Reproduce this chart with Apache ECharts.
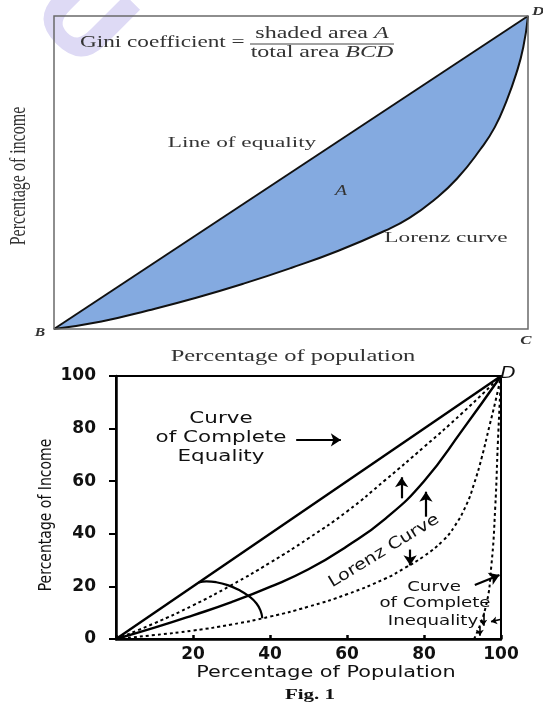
<!DOCTYPE html>
<html>
<head>
<meta charset="utf-8">
<script src="https://cdn.jsdelivr.net/npm/echarts@6/dist/echarts.min.js"></script>
<style>
html,body{margin:0;padding:0;background:#fff;}
#chart{width:543px;height:705px;}
</style>
</head>
<body>
<div id="chart"></div>
<script>
// ---------- data ----------
// Top diagram (Gini)
const topEqX = [0, 100];
const topEqY = [0, 100];
const topLorenzX = [0, 10, 20, 30, 40, 50, 60, 70, 75, 80, 85, 90, 93, 95.5, 97.5, 99, 100];
const topLorenzY = [0, 2.4, 6, 10, 14.5, 19.5, 25, 31.5, 35.5, 41, 48, 57.5, 64.5, 73, 81.5, 90, 100];

// Bottom diagram (Lorenz curves)
const botEqX = [0, 100];
const botEqY = [0, 100];
const dotted1X = [0, 10, 20, 30, 40, 50, 60, 70, 80, 90, 100];
const dotted1Y = [0, 6, 12.8, 20.5, 29, 38.3, 48.5, 60.5, 73, 86, 100];
const lorenzX = [0, 10, 20, 30, 40, 50, 60, 70, 80, 90, 100];
const lorenzY = [0, 4.3, 9, 14, 19.8, 26.5, 35.3, 45.8, 60, 79.5, 100];
const dotted2X = [0, 10, 20, 30, 40, 50, 60, 70, 75, 80, 85, 88, 91, 93, 95, 97, 98.5, 100];
const dotted2Y = [0, 1.5, 3.2, 5.5, 8.5, 12.3, 17, 23, 27, 31.5, 37.5, 43, 51, 59, 69, 81, 90, 100];
const steepX = [93, 96, 97.5, 98.5, 99.2, 100];
const steepY = [0, 12, 28, 50, 75, 100];
const arcX = [21.5, 23.5, 26, 29, 32, 34.5, 36.5, 37.6, 38];
const arcY = [21.5, 21.9, 21.6, 20.5, 18.6, 16.3, 13.5, 10.5, 7.9];

// annotation arrows [from, to] in data units
const arrowEquality = [[46.8, 75.7], [58.4, 75.7]];
const arrowUp1 = [[74.2, 53.5], [74.2, 61.5]];
const arrowUp2 = [[80.5, 46.5], [80.5, 56]];
const arrowDown = [[76.4, 34], [76.4, 28]];
const arrowInequality = [[93.2, 20.5], [99.6, 24.3]];
const arrowSmall1 = [[95.4, 10], [95.4, 5]];
const arrowSmall2 = [[99.8, 7.4], [97.4, 6.6]];
const arrowSmall3 = [[94.5, 4.8], [94.5, 1.2]];

// tick labels
const xTickValues = [0, 20, 40, 60, 80, 100];
const xTickLabels = ['', '20', '40', '60', '80', '100'];
const yTickValues = [0, 20, 40, 60, 80, 100];
const yTickLabels = ['0', '20', '40', '60', '80', '100'];

// ---------- helpers ----------
const zip = (xs, ys) => xs.map((x, i) => [x, ys[i]]);
const SERIF = '"Liberation Serif", serif';
const SANS = '"DejaVu Sans", sans-serif';

const chart = echarts.init(document.getElementById('chart'), null, {renderer: 'canvas'});

function bottomLine(name, xs, ys, dashed, width) {
  return {
    name, type: 'line', xAxisIndex: 1, yAxisIndex: 1,
    data: zip(xs, ys), showSymbol: false, symbol: 'none',
    smooth: xs.length > 2 ? 0.5 : false,
    lineStyle: {color: '#000', width: width || 2.4, type: dashed ? [3, 3] : 'solid'},
    silent: true, animation: false, z: 3
  };
}

const arrows = [arrowEquality, arrowUp1, arrowUp2, arrowDown, arrowInequality];
const smallArrows = [arrowSmall1, arrowSmall2, arrowSmall3];

const option = {
  animation: false,
  backgroundColor: '#fff',
  grid: [
    {left: 54, top: 16, width: 474, height: 313, show: true, borderColor: '#6a6a6a', borderWidth: 1.5, z: 6},
    {left: 116, top: 376, width: 385, height: 263, show: true, borderColor: '#000', borderWidth: 2}
  ],
  xAxis: [
    {gridIndex: 0, type: 'value', min: 0, max: 100, show: false},
    {gridIndex: 1, type: 'value', min: 0, max: 100, interval: 20,
      axisLine: {show: true, lineStyle: {color: '#000', width: 2.5}},
      axisTick: {show: true, inside: true, length: 4, lineStyle: {color: '#000', width: 2.5}},
      splitLine: {show: false},
      axisLabel: {margin: 7, color: '#111', fontFamily: SANS, fontSize: 17, fontWeight: 'bold',
        formatter: v => xTickLabels[xTickValues.indexOf(v)] ?? ''}}
  ],
  yAxis: [
    {gridIndex: 0, type: 'value', min: 0, max: 100, show: false},
    {gridIndex: 1, type: 'value', min: 0, max: 100, interval: 20,
      axisLine: {show: true, lineStyle: {color: '#000', width: 2.5}},
      axisTick: {show: true, length: 7, lineStyle: {color: '#000', width: 2}},
      splitLine: {show: false},
      axisLabel: {margin: 20, color: '#111', fontFamily: SANS, fontSize: 17, fontWeight: 'bold',
        formatter: v => yTickLabels[yTickValues.indexOf(v)] ?? ''}}
  ],
  series: [
    {
      name: 'Line of equality', type: 'line', xAxisIndex: 0, yAxisIndex: 0,
      data: zip(topEqX, topEqY), symbol: 'none', showSymbol: false,
      lineStyle: {color: '#111', width: 2},
      areaStyle: {color: '#84aae0', opacity: 1}, z: 2, silent: true
    },
    {
      name: 'Lorenz curve', type: 'line', xAxisIndex: 0, yAxisIndex: 0,
      data: zip(topLorenzX, topLorenzY), symbol: 'none', showSymbol: false,
      smooth: 0.5,
      lineStyle: {color: '#111', width: 2},
      areaStyle: {color: '#ffffff', opacity: 1}, z: 3, silent: true
    },
    bottomLine('Complete equality', botEqX, botEqY, false, 2.4),
    bottomLine('Dotted 1', dotted1X, dotted1Y, true, 2),
    bottomLine('Lorenz curve 2', lorenzX, lorenzY, false, 2.4),
    bottomLine('Dotted 2', dotted2X, dotted2Y, true, 2),
    bottomLine('Steep dotted', steepX, steepY, true, 2),
    bottomLine('Arc', arcX, arcY, false, 2.2),
    {
      type: 'lines', coordinateSystem: 'cartesian2d', xAxisIndex: 1, yAxisIndex: 1,
      data: arrows.map(a => ({coords: a})),
      symbol: ['none', 'arrow'], symbolSize: 10,
      lineStyle: {color: '#000', width: 2.2, opacity: 1}, silent: true, z: 4
    },
    {
      type: 'lines', coordinateSystem: 'cartesian2d', xAxisIndex: 1, yAxisIndex: 1,
      data: smallArrows.map(a => ({coords: a})),
      symbol: ['none', 'arrow'], symbolSize: 6,
      lineStyle: {color: '#000', width: 1.6, opacity: 1}, silent: true, z: 4
    }
  ],
  graphic: [
    // watermark
    {type: 'text', x: 78, y: 22, rotation: -Math.PI / 4, silent: true, z: -10,
      style: {text: 'U', font: 'bold 112px "DejaVu Sans"', fill: '#dedaf5', align: 'center', verticalAlign: 'middle'}},
    // top texts
    {type: 'text', x: 80, y: 43, scaleX: 1.45, silent: true, z: 20,
      style: {text: 'Gini coefficient =', font: '16px ' + SERIF, fill: '#333', align: 'left', verticalAlign: 'middle'}},
    {type: 'text', x: 322, y: 34, scaleX: 1.5, silent: true, z: 20,
      style: {text: 'shaded area {i|A}', font: '16px ' + SERIF, fill: '#333', align: 'center', verticalAlign: 'middle',
        rich: {i: {fontStyle: 'italic', font: 'italic 16px ' + SERIF, fill: '#333'}}}},
    {type: 'line', silent: true, z: 20, shape: {x1: 250, y1: 44, x2: 394, y2: 44}, style: {stroke: '#444', lineWidth: 1.2}},
    {type: 'text', x: 322, y: 53, scaleX: 1.5, silent: true, z: 20,
      style: {text: 'total area {i|BCD}', font: '16px ' + SERIF, fill: '#333', align: 'center', verticalAlign: 'middle',
        rich: {i: {fontStyle: 'italic', font: 'italic 16px ' + SERIF, fill: '#333'}}}},
    {type: 'text', x: 242, y: 143, scaleX: 1.5, silent: true, z: 20,
      style: {text: 'Line of equality', font: '15.5px ' + SERIF, fill: '#333', align: 'center', verticalAlign: 'middle'}},
    {type: 'text', x: 341, y: 191, scaleX: 1.4, silent: true, z: 20,
      style: {text: 'A', font: 'italic 14px ' + SERIF, fill: '#333', align: 'center', verticalAlign: 'middle'}},
    {type: 'text', x: 446, y: 238, scaleX: 1.5, silent: true, z: 20,
      style: {text: 'Lorenz curve', font: '15.5px ' + SERIF, fill: '#333', align: 'center', verticalAlign: 'middle'}},
    {type: 'text', x: 293, y: 357, scaleX: 1.53, silent: true, z: 20,
      style: {text: 'Percentage of population', font: '16px ' + SERIF, fill: '#333', align: 'center', verticalAlign: 'middle'}},
    {type: 'text', x: 19, y: 176, rotation: Math.PI / 2, scaleY: 1.4, silent: true, z: 20,
      style: {text: 'Percentage of income', font: '16px ' + SERIF, fill: '#333', align: 'center', verticalAlign: 'middle'}},
    {type: 'text', x: 40, y: 333, scaleX: 1.3, silent: true, z: 20,
      style: {text: 'B', font: 'italic bold 12px ' + SERIF, fill: '#333', align: 'center', verticalAlign: 'middle'}},
    {type: 'text', x: 526, y: 341, scaleX: 1.3, silent: true, z: 20,
      style: {text: 'C', font: 'italic bold 13px ' + SERIF, fill: '#333', align: 'center', verticalAlign: 'middle'}},
    {type: 'text', x: 538, y: 12, scaleX: 1.3, silent: true, z: 20,
      style: {text: 'D', font: 'italic bold 13px ' + SERIF, fill: '#333', align: 'center', verticalAlign: 'middle'}},
    // bottom texts
    {type: 'text', x: 221, y: 419, scaleX: 1.3, silent: true, z: 20,
      style: {text: 'Curve', font: '16.5px ' + SANS, fill: '#111', align: 'center', verticalAlign: 'middle'}},
    {type: 'text', x: 221, y: 438, scaleX: 1.3, silent: true, z: 20,
      style: {text: 'of Complete', font: '16.5px ' + SANS, fill: '#111', align: 'center', verticalAlign: 'middle'}},
    {type: 'text', x: 221, y: 457, scaleX: 1.3, silent: true, z: 20,
      style: {text: 'Equality', font: '16.5px ' + SANS, fill: '#111', align: 'center', verticalAlign: 'middle'}},
    {type: 'text', x: 384, y: 551, rotation: 0.55, scaleX: 1.2, silent: true, z: 20,
      style: {text: 'Lorenz Curve', font: '16px ' + SANS, fill: '#111', align: 'center', verticalAlign: 'middle'}},
    {type: 'text', x: 434, y: 587, scaleX: 1.3, silent: true, z: 20,
      style: {text: 'Curve', font: '14px ' + SANS, fill: '#111', align: 'center', verticalAlign: 'middle'}},
    {type: 'text', x: 435, y: 603.5, scaleX: 1.3, silent: true, z: 20,
      style: {text: 'of Complete', font: '14px ' + SANS, fill: '#111', align: 'center', verticalAlign: 'middle'}},
    {type: 'text', x: 433, y: 621, scaleX: 1.3, silent: true, z: 20,
      style: {text: 'Inequality', font: '14px ' + SANS, fill: '#111', align: 'center', verticalAlign: 'middle'}},
    {type: 'text', x: 508, y: 374, scaleX: 1.25, silent: true, z: 20,
      style: {text: 'D', font: 'italic 16px ' + SANS, fill: '#111', align: 'center', verticalAlign: 'middle'}},
    {type: 'text', x: 326, y: 673, scaleX: 1.3, silent: true, z: 20,
      style: {text: 'Percentage of Population', font: '16px ' + SANS, fill: '#111', align: 'center', verticalAlign: 'middle'}},
    {type: 'text', x: 46, y: 515, rotation: Math.PI / 2, scaleY: 1.3, silent: true, z: 20,
      style: {text: 'Percentage of Income', font: '14px ' + SANS, fill: '#111', align: 'center', verticalAlign: 'middle'}},
    {type: 'text', x: 310, y: 695, scaleX: 1.5, silent: true, z: 20,
      style: {text: 'Fig. 1', font: 'bold 14px ' + SERIF, fill: '#111', align: 'center', verticalAlign: 'middle'}}
  ]
};
chart.setOption(option);
</script>
</body>
</html>
